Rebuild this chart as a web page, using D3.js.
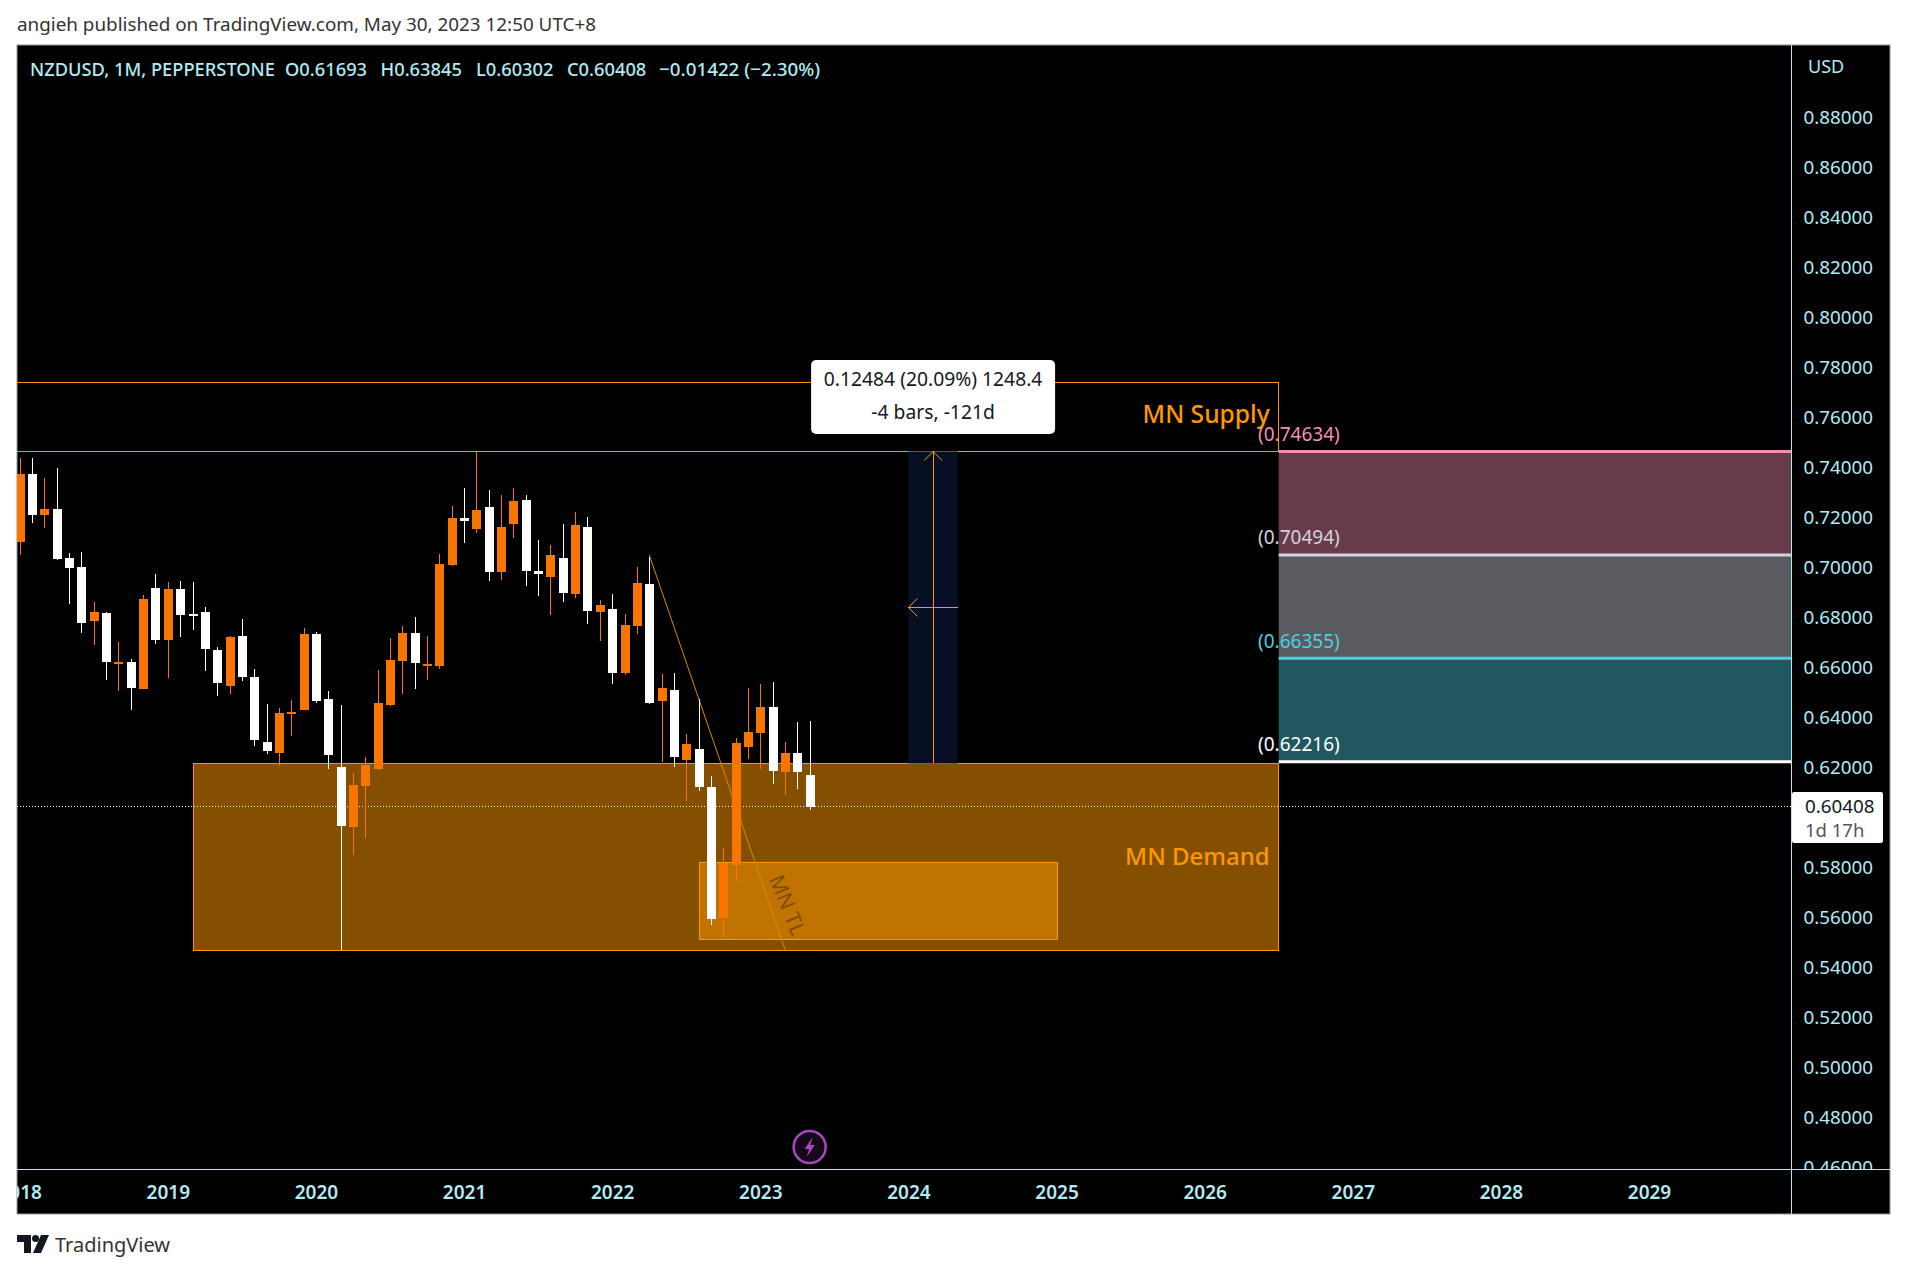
<!DOCTYPE html>
<html>
<head>
<meta charset="utf-8">
<title>NZDUSD, 1M</title>
<script src="https://cdn.jsdelivr.net/npm/d3@7"></script>
<style>
  html, body { margin: 0; background: #fff; }
  svg { display: block; }
  text { font-family: "Noto Sans", sans-serif; }
  .axis-label text { fill: #b2ebf2; font-size: 18.8px; font-family: "Noto Sans", sans-serif; }
  .axis-year text { font-size: 19px; font-weight: 600; }
</style>
</head>
<body>
<svg id="chart" width="1907" height="1273"></svg>
<script>
// monthly candles, Jan 2018 .. May 2023
const opens = [
  0.7101, 0.7373, 0.7209, 0.7233, 0.7037, 0.7001, 0.6785, 0.6817, 0.6613, 0.6621, 0.6513, 0.6917,
  0.6709, 0.6913, 0.6813, 0.6821, 0.6669, 0.6525, 0.6725, 0.6561, 0.6301, 0.6257, 0.6413, 0.6429,
  0.6733, 0.6473, 0.6201, 0.5961, 0.6125, 0.6193, 0.6449, 0.6625, 0.6737, 0.6605, 0.6605, 0.7009,
  0.7197, 0.7154, 0.7241, 0.6982, 0.7173, 0.7270, 0.6986, 0.6961, 0.7037, 0.6893, 0.7161, 0.6822,
  0.6833, 0.6577, 0.6765, 0.6933, 0.6465, 0.6509, 0.6229, 0.6273, 0.6120, 0.5597, 0.5809, 0.6282,
  0.6337, 0.6441, 0.6181, 0.6257, 0.61693
];
const highs = [
  0.7437, 0.7437, 0.7357, 0.7397, 0.7057, 0.7061, 0.6861, 0.6821, 0.6701, 0.6633, 0.6889, 0.6973,
  0.6941, 0.6945, 0.6941, 0.6841, 0.6681, 0.6725, 0.6793, 0.6593, 0.6453, 0.6437, 0.6469, 0.6757,
  0.6741, 0.6505, 0.6449, 0.6177, 0.6241, 0.6589, 0.6717, 0.6765, 0.6801, 0.6725, 0.7053, 0.7245,
  0.7318, 0.74634, 0.7310, 0.7289, 0.7318, 0.7289, 0.7110, 0.7089, 0.7173, 0.7221, 0.7201, 0.6869,
  0.6893, 0.6813, 0.7001, 0.7040, 0.6572, 0.6577, 0.6333, 0.6473, 0.6164, 0.5876, 0.6317, 0.6517,
  0.6532, 0.6541, 0.6301, 0.6381, 0.63845
];
const lows = [
  0.7049, 0.7179, 0.7159, 0.7030, 0.6853, 0.6737, 0.6689, 0.6549, 0.6505, 0.6429, 0.6511, 0.6693,
  0.6557, 0.6721, 0.6749, 0.6585, 0.6485, 0.6493, 0.6545, 0.6285, 0.6253, 0.6205, 0.6325, 0.6427,
  0.6457, 0.6193, 0.5469, 0.5849, 0.5917, 0.6189, 0.6445, 0.6493, 0.6513, 0.6549, 0.6593, 0.7005,
  0.7097, 0.7137, 0.6946, 0.6949, 0.7117, 0.6925, 0.6885, 0.6809, 0.6862, 0.6877, 0.6774, 0.6705,
  0.6532, 0.6570, 0.6734, 0.6452, 0.6221, 0.6200, 0.6065, 0.6105, 0.5569, 0.5517, 0.5744, 0.6233,
  0.6193, 0.6133, 0.6089, 0.6113, 0.60302
];
const closes = [
  0.7373, 0.7209, 0.7233, 0.7033, 0.6997, 0.6777, 0.6821, 0.6621, 0.6621, 0.6517, 0.6873, 0.6709,
  0.6913, 0.6809, 0.6805, 0.6673, 0.6537, 0.6721, 0.6561, 0.6309, 0.6265, 0.6417, 0.6421, 0.6733,
  0.6465, 0.6249, 0.5965, 0.6129, 0.6209, 0.6457, 0.6629, 0.6737, 0.6617, 0.6614, 0.7013, 0.7197,
  0.7186, 0.7230, 0.6982, 0.7161, 0.7266, 0.6986, 0.6973, 0.7049, 0.6898, 0.7169, 0.6825, 0.6849,
  0.6577, 0.6769, 0.6938, 0.6457, 0.6517, 0.6240, 0.6293, 0.6120, 0.5593, 0.5817, 0.6297, 0.6341,
  0.6441, 0.6185, 0.6257, 0.6181, 0.60408
];

const yearLabels = ['2018', '2019', '2020', '2021', '2022', '2023', '2024', '2025', '2026', '2027', '2028', '2029'];
const yearBars = yearLabels.map((_, i) => i * 12);
// 0.60 is hidden by the last price tag
const priceTicks = [0.46, 0.48, 0.50, 0.52, 0.54, 0.56, 0.58, 0.62, 0.64, 0.66, 0.68, 0.70, 0.72, 0.74, 0.76, 0.78, 0.80, 0.82, 0.84, 0.86, 0.88];

// fib zones, top to bottom
const fibLevels = [0.74634, 0.70494, 0.66355, 0.62216];
const fibLabels = ['(0.74634)', '(0.70494)', '(0.66355)', '(0.62216)'];
const fibLineColors = ['#f48fb1', '#d1d4dc', '#4dd0e1', '#ffffff'];
const fibFills = ['#683b4a', '#5a5b60', '#215860'];

const lastPrice = 0.60408;
const ORANGE = '#ff9800';
const UP = '#f77500';
const DOWN = '#ffffff';

const plotLeft = 17, plotRight = 1791, plotTop = 45, plotBottom = 1169, outerRight = 1890, outerBottom = 1214;

const x = d3.scaleLinear().domain([0, 132]).range([19.7, 1649]);
const y = d3.scaleLinear().domain([0.64, 0.48]).range([717.2, 1117]);

const svg = d3.select('#chart');

// chart background and frame
svg.append('rect').attr('x', plotLeft).attr('y', plotTop)
  .attr('width', outerRight - plotLeft).attr('height', outerBottom - plotTop)
  .attr('fill', '#000').attr('stroke', '#9598a1').attr('stroke-width', 1);

const defs = svg.append('defs');
defs.append('clipPath').attr('id', 'plot-clip').append('rect')
  .attr('x', plotLeft).attr('y', plotTop).attr('width', plotRight - plotLeft).attr('height', plotBottom - plotTop);
defs.append('clipPath').attr('id', 'price-clip').append('rect')
  .attr('x', plotRight).attr('y', plotTop).attr('width', outerRight - plotRight).attr('height', plotBottom - plotTop);
defs.append('clipPath').attr('id', 'time-clip').append('rect')
  .attr('x', plotLeft).attr('y', plotBottom).attr('width', plotRight - plotLeft).attr('height', outerBottom - plotBottom);

const plot = svg.append('g').attr('clip-path', 'url(#plot-clip)');

// fib zones on the right
fibFills.forEach((c, i) => {
  plot.append('rect').attr('x', x(102)).attr('width', plotRight - x(102))
    .attr('y', y(fibLevels[i])).attr('height', y(fibLevels[i + 1]) - y(fibLevels[i]))
    .attr('fill', c);
});
fibLevels.forEach((v, i) => {
  plot.append('line').attr('x1', x(102)).attr('x2', plotRight)
    .attr('y1', y(v)).attr('y2', y(v))
    .attr('stroke', fibLineColors[i]).attr('stroke-width', 3);
});

// supply / demand boxes
const boxes = plot.append('g').attr('shape-rendering', 'crispEdges');
boxes.append('rect').attr('x', x(-5)).attr('width', x(102) - x(-5))
  .attr('y', y(0.77403)).attr('height', y(0.74634) - y(0.77403))
  .attr('fill', 'none').attr('stroke', ORANGE).attr('stroke-width', 1);
boxes.append('rect').attr('x', x(14.07)).attr('width', x(102) - x(14.07))
  .attr('y', y(0.6215)).attr('height', y(0.5465) - y(0.6215))
  .attr('fill', '#845000').attr('stroke', ORANGE).attr('stroke-width', 1);
boxes.append('rect').attr('x', x(55.06)).attr('width', x(84.1) - x(55.06))
  .attr('y', y(0.582)).attr('height', y(0.5512) - y(0.582))
  .attr('fill', '#c07300').attr('stroke', ORANGE).attr('stroke-width', 1);

// price range measure
const range = plot.append('g');
range.append('rect').attr('x', x(72)).attr('width', x(76) - x(72))
  .attr('y', y(0.74634)).attr('height', y(0.6215) - y(0.74634))
  .attr('fill', '#060f24');
range.append('line').attr('x1', x(74)).attr('x2', x(74))
  .attr('y1', y(0.74634)).attr('y2', y(0.6215))
  .attr('stroke', ORANGE).attr('stroke-width', 1).attr('shape-rendering', 'crispEdges');
range.append('line').attr('x1', x(72)).attr('x2', x(76))
  .attr('y1', y(0.68392)).attr('y2', y(0.68392))
  .attr('stroke', ORANGE).attr('stroke-width', 1).attr('shape-rendering', 'crispEdges');
range.append('path')
  .attr('d', `M${x(74) - 9},${y(0.74634) + 9} L${x(74)},${y(0.74634)} L${x(74) + 9},${y(0.74634) + 9}`)
  .attr('fill', 'none').attr('stroke', ORANGE);
range.append('path')
  .attr('d', `M${x(72) + 9},${y(0.68392) - 9} L${x(72)},${y(0.68392)} L${x(72) + 9},${y(0.68392) + 9}`)
  .attr('fill', 'none').attr('stroke', ORANGE);

// trend line
plot.append('line').attr('x1', x(51)).attr('y1', y(0.705)).attr('x2', x(62)).attr('y2', y(0.5471))
  .attr('stroke', '#e08600').attr('stroke-width', 1);
plot.append('text').attr('transform', `translate(${x(62.25)},${y(0.5648)}) rotate(68)`)
  .attr('text-anchor', 'middle').attr('dominant-baseline', 'central')
  .attr('font-size', 21).attr('fill', '#7d4e00').text('MN TL');

// last price line
plot.append('line').attr('x1', plotLeft).attr('x2', plotRight)
  .attr('y1', Math.round(y(lastPrice)) - 0.5).attr('y2', Math.round(y(lastPrice)) - 0.5)
  .attr('stroke', '#fff').attr('stroke-width', 1).attr('stroke-dasharray', '1 2');

// candles
const candles = plot.append('g').selectAll('g').data(opens).enter().append('g')
  .attr('shape-rendering', 'crispEdges');
candles.append('line')
  .attr('x1', (d, i) => Math.round(x(i)) + 0.5).attr('x2', (d, i) => Math.round(x(i)) + 0.5)
  .attr('y1', (d, i) => y(highs[i])).attr('y2', (d, i) => y(lows[i]))
  .attr('stroke', (d, i) => closes[i] < d ? DOWN : UP);
candles.append('rect')
  .attr('x', (d, i) => Math.round(x(i)) - 4).attr('width', 9)
  .attr('y', (d, i) => y(Math.max(d, closes[i])))
  .attr('height', (d, i) => Math.max(2, Math.abs(y(d) - y(closes[i]))))
  .attr('fill', (d, i) => closes[i] < d ? DOWN : UP);

// zone texts
plot.append('text').attr('x', x(102) - 9).attr('y', y(0.74634) - 28)
  .attr('text-anchor', 'end').attr('font-size', 24.6).attr('font-weight', 500).attr('fill', ORANGE)
  .text('MN Supply');
plot.append('text').attr('x', x(102) - 9).attr('y', y(0.5805) - 1)
  .attr('text-anchor', 'end').attr('font-size', 24).attr('font-weight', 500).attr('fill', ORANGE)
  .text('MN Demand');

fibLevels.forEach((v, i) => {
  plot.append('text').attr('x', x(102) + 61).attr('y', y(v) - 10.5)
    .attr('text-anchor', 'end').attr('font-size', 19).attr('fill', fibLineColors[i])
    .text(fibLabels[i]);
});

// measure label
const measure = svg.append('g');
measure.append('rect').attr('x', x(74) - 122).attr('y', y(0.74634) - 91.5)
  .attr('width', 244).attr('height', 74).attr('rx', 5).attr('fill', '#fff');
measure.append('text').attr('x', x(74)).attr('y', y(0.74634) - 65)
  .attr('text-anchor', 'middle').attr('font-size', 19.3).attr('fill', '#131722')
  .text('0.12484 (20.09%) 1248.4');
measure.append('text').attr('x', x(74)).attr('y', y(0.74634) - 32)
  .attr('text-anchor', 'middle').attr('font-size', 19.3).attr('fill', '#131722')
  .text('-4 bars, -121d');

// lightning marker
const bolt = svg.append('g').attr('transform', `translate(${x(64)},1147)`);
bolt.append('circle').attr('r', 16).attr('fill', '#15081a').attr('stroke', '#ab47bc').attr('stroke-width', 2.5);
bolt.append('path').attr('d', 'M3,-10 L-5,2 L-0.5,2 L-3,10 L5,-2 L0.5,-2 Z').attr('fill', '#ab47bc');

// axes
const priceAxis = d3.axisRight(y).tickValues(priceTicks).tickFormat(d3.format('.5f')).tickSize(0).tickPadding(12.5);
svg.append('g').attr('clip-path', 'url(#price-clip)').append('g')
  .attr('class', 'axis-label').attr('transform', `translate(${plotRight},0)`)
  .call(priceAxis).call(g => g.select('.domain').remove());

const timeAxis = d3.axisBottom(x).tickValues(yearBars).tickFormat((d, i) => yearLabels[i]).tickSize(0);
svg.append('g').attr('clip-path', 'url(#time-clip)').append('g')
  .attr('class', 'axis-label axis-year').attr('transform', `translate(0,${plotBottom + 13})`)
  .call(timeAxis).call(g => g.select('.domain').remove());

svg.append('line').attr('x1', plotRight + 0.5).attr('x2', plotRight + 0.5).attr('y1', plotTop).attr('y2', outerBottom)
  .attr('stroke', '#b2ebf2');
svg.append('line').attr('x1', plotLeft).attr('x2', outerRight).attr('y1', plotBottom + 0.5).attr('y2', plotBottom + 0.5)
  .attr('stroke', '#b2ebf2');

svg.append('text').attr('x', 1808).attr('y', 73).attr('font-size', 18).attr('fill', '#b2ebf2').text('USD');

// last price tag
svg.append('rect').attr('x', plotRight + 1).attr('y', y(lastPrice) - 15).attr('width', 91).attr('height', 51)
  .attr('rx', 2).attr('fill', '#fff');
svg.append('text').attr('x', 1805).attr('y', y(lastPrice) + 6.5).attr('font-size', 18.8).attr('fill', '#131722')
  .text(d3.format('.5f')(lastPrice));
svg.append('text').attr('x', 1805).attr('y', y(lastPrice) + 30).attr('font-size', 18.5).attr('fill', '#555')
  .text('1d 17h');

// header
const legendItems = ['NZDUSD, 1M, PEPPERSTONE', 'O0.61693', 'H0.63845', 'L0.60302', 'C0.60408', '\u22120.01422 (\u22122.30%)'];
const legendX = [30, 285, 380.5, 476, 567, 659];
const legendSize = [18.3, 18.3, 18.3, 18.3, 18.3, 18.8];
svg.selectAll('text.legend').data(legendItems).enter().append('text')
  .attr('class', 'legend').attr('x', (d, i) => legendX[i]).attr('y', 76)
  .attr('font-size', (d, i) => legendSize[i]).attr('font-weight', 500).attr('fill', '#b2ebf2').text(d => d);

svg.append('text').attr('x', 17).attr('y', 31).attr('font-size', 18.85).attr('fill', '#333')
  .text('angieh published on TradingView.com, May 30, 2023 12:50 UTC+8');

// footer logo
svg.append('path').attr('d', 'M17,1235 H31 V1253 H24 V1242 H17 Z M33,1253 L41,1235 H49 L41,1253 Z').attr('fill', '#131722');
svg.append('circle').attr('cx', 35.5).attr('cy', 1238.5).attr('r', 3.5).attr('fill', '#131722');
svg.append('text').attr('x', 55).attr('y', 1252).attr('font-size', 20).attr('fill', '#333').text('TradingView');
</script>
</body>
</html>
